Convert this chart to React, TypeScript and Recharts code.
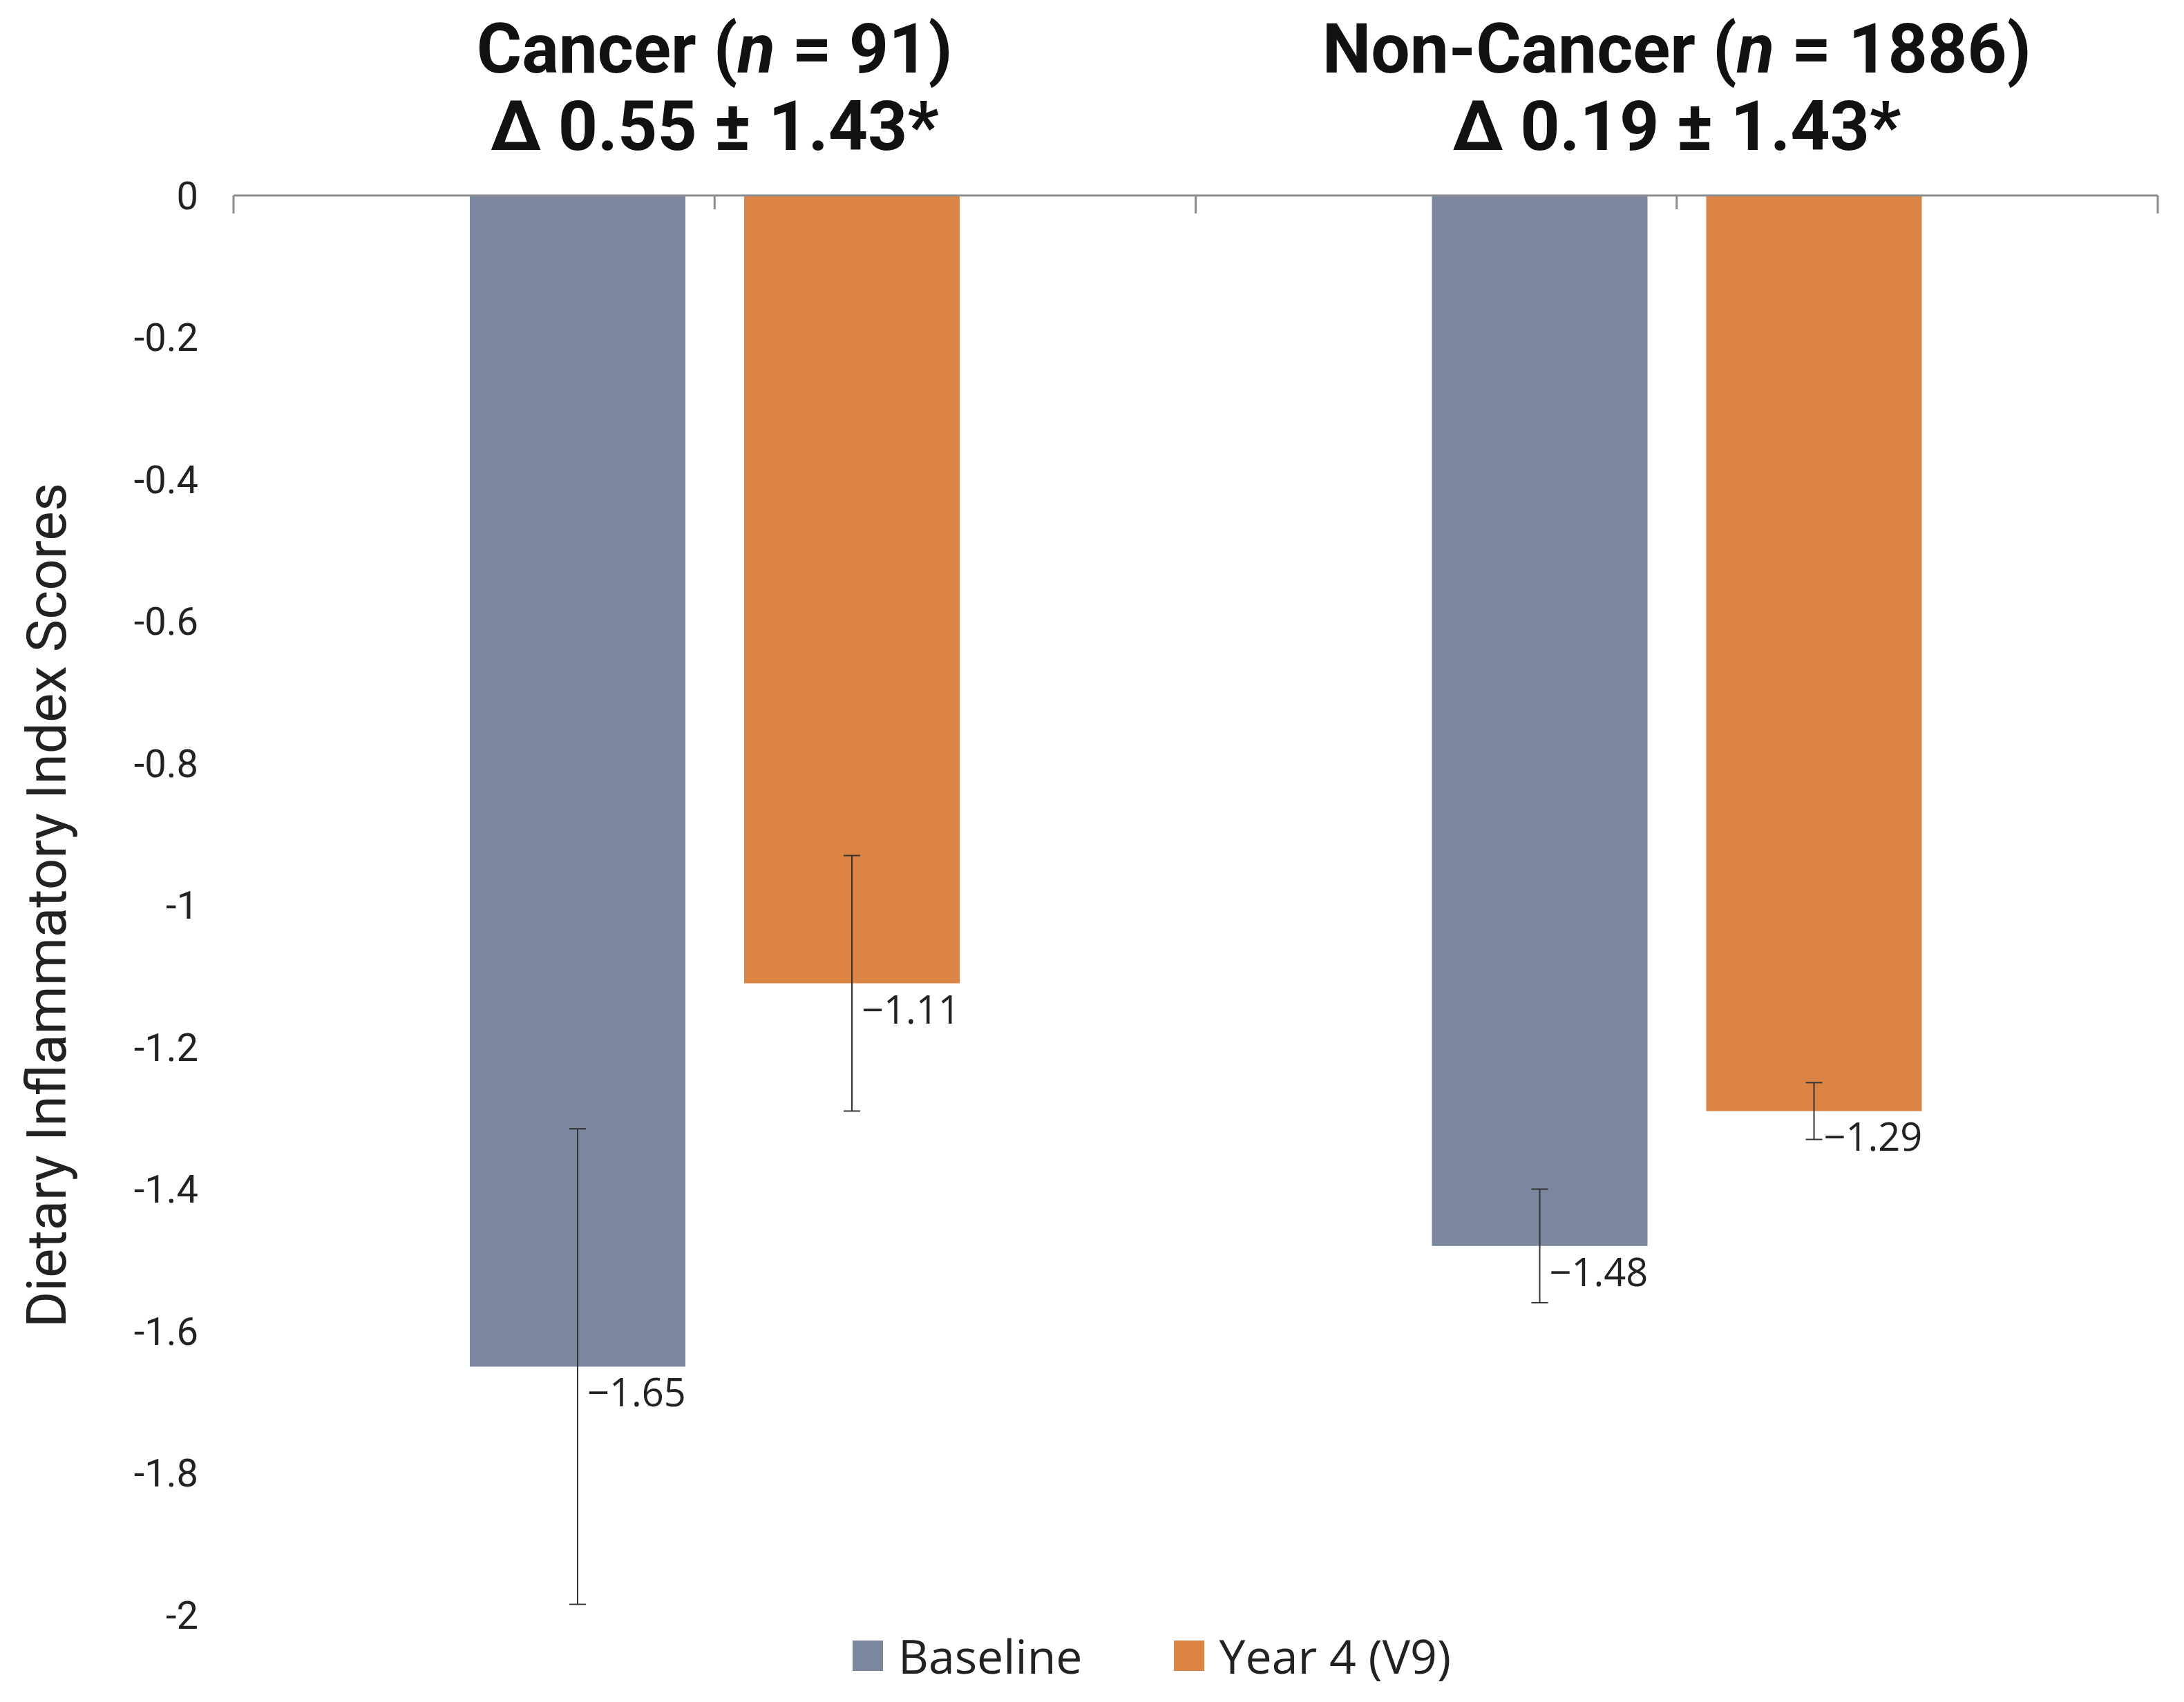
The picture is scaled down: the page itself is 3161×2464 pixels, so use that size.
import React from "react";
import { BarChart, Bar, XAxis, YAxis, ErrorBar, LabelList, Legend } from "recharts";

const categories = ["Cancer", "Non-Cancer"];
const sampleSizes = [91, 1886];
const deltaLabels = ["Δ 0.55 ± 1.43*", "Δ 0.19 ± 1.43*"];
const baselineMeans = [-1.65, -1.48];
const year4Means = [-1.11, -1.29];
const baselineErrors = [0.335, 0.08];
const year4Errors = [0.18, 0.04];
const yTicks = [0, -0.2, -0.4, -0.6, -0.8, -1, -1.2, -1.4, -1.6, -1.8, -2];

const BASELINE = "#7a879f";
const YEAR4 = "#dc8443";
const AXIS = "#8c8c8c";

const data = categories.map((name, i) => ({
  name,
  n: sampleSizes[i],
  delta: deltaLabels[i],
  baseline: baselineMeans[i],
  year4: year4Means[i],
  baselineErr: baselineErrors[i],
  year4Err: year4Errors[i],
}));

// category title above each group, plus the small inward tick marks
function TitleTick(props: any) {
  const { x, y, payload, width } = props;
  const row = data[payload.index];
  const band = typeof width === "number" ? width / data.length : 0;
  return (
    <g>
      <line x1={x} x2={x} y1={y} y2={y + 20} stroke={AXIS} strokeWidth={3} />
      {band > 0 && (
        <>
          <line x1={x - band / 2} x2={x - band / 2} y1={y} y2={y + 26} stroke={AXIS} strokeWidth={3} />
          <line x1={x + band / 2} x2={x + band / 2} y1={y} y2={y + 26} stroke={AXIS} strokeWidth={3} />
        </>
      )}
      <text
        x={x}
        y={y - 178}
        textAnchor="middle"
        fontFamily="Roboto"
        fontWeight={700}
        fontSize={100}
        fill="#111"
      >
        {row.name} (<tspan fontStyle="italic">n</tspan> = {row.n})
      </text>
      <text
        x={x}
        y={y - 66}
        textAnchor="middle"
        fontFamily="Roboto"
        fontWeight={700}
        fontSize={100}
        fill="#111"
      >
        {row.delta}
      </text>
    </g>
  );
}

function ValueLabel(props: any) {
  const { x, y, width, height, value } = props;
  const bottom = Math.max(y, y + height);
  return (
    <text
      x={x + width / 2 + 14}
      y={bottom + 58}
      fontFamily="Open Sans"
      fontSize={56}
      fill="#222"
    >
      {"\u2212" + Math.abs(value).toFixed(2)}
    </text>
  );
}

function AxisTitle(props: any) {
  const { viewBox } = props;
  const cy = viewBox.y + viewBox.height / 2;
  return (
    <text
      x={95}
      y={cy}
      transform={`rotate(-90, 95, ${cy})`}
      textAnchor="middle"
      fontFamily="Roboto"
      fontSize={80}
      fill="#222"
    >
      Dietary Inflammatory Index Scores
    </text>
  );
}

function LegendContent() {
  const items = [
    { label: "Baseline", color: BASELINE },
    { label: "Year 4 (V9)", color: YEAR4 },
  ];
  return (
    <div style={{ display: "flex", alignItems: "center", height: 70 }}>
      {items.map((it, i) => (
        <div
          key={it.label}
          style={{ display: "flex", alignItems: "center", marginRight: i === 0 ? 132 : 0 }}
        >
          <div style={{ width: 44, height: 44, background: it.color, marginRight: 22 }} />
          <span style={{ fontFamily: "Open Sans", fontSize: 68, color: "#222", lineHeight: "70px" }}>
            {it.label}
          </span>
        </div>
      ))}
    </div>
  );
}

export default function App() {
  return (
    <div style={{ width: 3161, height: 2464, background: "#fff" }}>
      <style>{`body{margin:0}`}</style>
      <BarChart
        width={3161}
        height={2464}
        data={data}
        margin={{ top: 0, right: 38, bottom: 56, left: 0 }}
        barSize={312}
        barGap={85}
      >
        <XAxis
          dataKey="name"
          orientation="top"
          height={283}
          axisLine={{ stroke: AXIS, strokeWidth: 3 }}
          tickLine={false}
          tickSize={0}
          tickMargin={0}
          tick={<TitleTick />}
          interval={0}
        />
        <YAxis
          width={338}
          domain={[-2, 0]}
          ticks={yTicks}
          interval={0}
          axisLine={false}
          tickLine={false}
          tickSize={0}
          tickMargin={51}
          tick={{ fontFamily: "Roboto", fontSize: 56, fill: "#222" }}
          label={<AxisTitle />}
        />
        <Legend
          verticalAlign="bottom"
          content={<LegendContent />}
          wrapperStyle={{ left: 1234, bottom: 32, width: "auto" }}
        />
        <Bar dataKey="baseline" name="Baseline" fill={BASELINE} isAnimationActive={false}>
          <ErrorBar dataKey="baselineErr" direction="y" width={12} stroke="#333" strokeWidth={2} />
          <LabelList dataKey="baseline" content={<ValueLabel />} />
        </Bar>
        <Bar dataKey="year4" name="Year 4 (V9)" fill={YEAR4} isAnimationActive={false}>
          <ErrorBar dataKey="year4Err" direction="y" width={12} stroke="#333" strokeWidth={2} />
          <LabelList dataKey="year4" content={<ValueLabel />} />
        </Bar>
      </BarChart>
    </div>
  );
}
